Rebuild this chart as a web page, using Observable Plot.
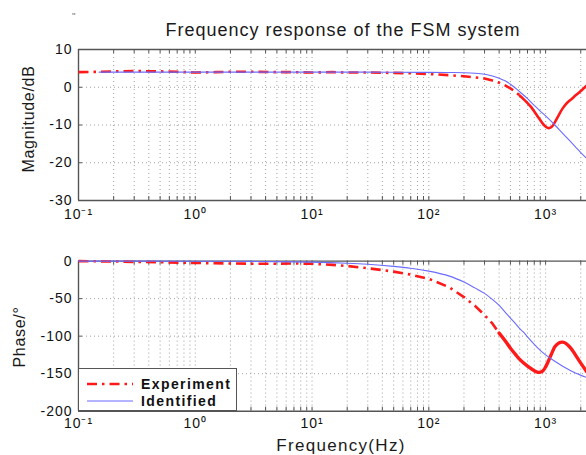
<!DOCTYPE html>
<html>
<head>
<meta charset="utf-8">
<script src="https://cdn.jsdelivr.net/npm/d3@7"></script>
<script src="https://cdn.jsdelivr.net/npm/@observablehq/plot@0.6"></script>
<style>
  html, body { margin: 0; padding: 0; background: #fff; overflow: hidden; }
  #wrap { position: relative; width: 586px; height: 455px; font-family: Arial, "Liberation Sans", Helvetica, sans-serif; color: #1a1a1a; }
  #wrap svg.panel { position: absolute; left: 0; }
  #wrap svg.panel text { letter-spacing: 1px; }
  .lbl { position: absolute; white-space: nowrap; line-height: 1; }
  .ylab { position: absolute; white-space: nowrap; line-height: 1; font-size: 16px; letter-spacing: 0.7px; transform: translate(-50%, -50%) rotate(-90deg); }
  #legend { position: absolute; background: #fff; border: 1px solid #555; box-sizing: border-box; }
  #legend .row { position: absolute; left: 0; display: flex; align-items: center; }
  #legend .row span { font-weight: bold; font-size: 14px; letter-spacing: 1.4px; color: #111; margin-left: 8px; }
</style>
</head>
<body>
<div id="wrap"></div>
<script>
// ---------- data ----------
const xTicks = [0.1, 1, 10, 100, 1000];
const xTickLabels = ["10\u207B\u00B9", "10\u2070", "10\u00B9", "10\u00B2", "10\u00B3"];
const xGrid = [0.2, 0.3, 0.4, 0.5, 0.6, 0.7, 0.8, 0.9, 1, 2, 3, 4, 5, 6, 7, 8, 9, 10,
               20, 30, 40, 50, 60, 70, 80, 90, 100, 200, 300, 400, 500, 600, 700, 800, 900, 1000, 2000];
const xDomain = [0.1, 2240];
const magTicks = [10, 0, -10, -20, -30];
const phaseTicks = [0, -50, -100, -150, -200];
const seriesNames = ["Experiment", "Identified"];

// Magnitude (dB)
const magFreqExp = [0.1, 0.15, 0.2, 0.3, 0.5, 0.7, 1, 1.5, 2, 3, 5, 7, 10, 15, 20, 30, 50, 70, 100, 150, 200, 250, 300, 350, 400, 450, 500, 550, 600, 650, 700, 750, 800, 850, 900, 950, 1000, 1050, 1100, 1150, 1200, 1300, 1400, 1500, 1600, 1700, 1800, 1900, 2000, 2100, 2240];
const magExp     = [4.0, 4.1, 4.2, 4.3, 4.2, 4.1, 3.9, 4.0, 4.1, 4.1, 4.0, 4.0, 3.9, 4.0, 3.9, 3.9, 3.8, 3.7, 3.5, 3.2, 2.9, 2.6, 2.3, 1.8, 1.2, 0.5, -0.3, -1.2, -2.2, -3.2, -4.2, -5.2, -6.4, -7.6, -8.7, -9.7, -10.4, -10.8, -10.7, -10.2, -9.3, -7.3, -5.6, -4.4, -3.6, -2.9, -2.2, -1.6, -1.0, -0.4, 0.4];
const magFreqId  = [0.15, 0.3, 1, 3, 10, 30, 100, 150, 200, 250, 300, 350, 400, 450, 500, 550, 600, 700, 800, 900, 1000, 1200, 1400, 1600, 1800, 2000, 2240];
const magId      = [4.0, 4.0, 4.0, 4.0, 4.0, 4.0, 3.95, 3.9, 3.85, 3.7, 3.45, 3.0, 2.4, 1.7, 0.8, -0.2, -1.2, -3.0, -4.8, -6.3, -7.6, -10.0, -12.2, -14.1, -15.8, -17.3, -18.8];

// Phase (degrees)
const phFreqExp = [0.1, 0.2, 0.3, 0.5, 1, 2, 3, 5, 7, 10, 15, 20, 30, 40, 50, 70, 100, 150, 200, 250, 300, 350, 400, 450, 500, 550, 600, 700, 800, 850, 900, 950, 1000, 1050, 1100, 1150, 1200, 1300, 1400, 1500, 1600, 1700, 1800, 2000, 2240];
const phExp     = [0, -0.5, -1, -1.5, -2.5, -3.2, -3.5, -3.5, -3.2, -3.5, -5, -6.5, -9.5, -12, -14, -18, -23.6, -35, -48, -60, -72, -83, -96, -106, -116, -124, -131, -140, -146, -148, -148, -146, -141, -134, -127, -120, -114, -109, -108, -110, -114, -119, -125, -136, -147];
const phFreqId  = [0.1, 1, 3, 10, 20, 30, 50, 70, 100, 150, 200, 250, 300, 350, 400, 450, 500, 550, 600, 650, 700, 800, 900, 1000, 1100, 1200, 1400, 1600, 1800, 2000, 2240];
const phId      = [0, -0.1, -0.4, -1.4, -2.8, -4.2, -7, -9.5, -13.4, -20, -28, -36, -43, -51, -59, -68, -76, -83, -90, -95, -101, -111, -119, -125, -129.5, -133.5, -140, -145, -149, -152, -155];

// ---------- helpers ----------
const rows = (fs, vs) => fs.map((f, i) => ({f, v: vs[i]}));
const magExpRows = rows(magFreqExp, magExp);
const magIdRows = rows(magFreqId, magId);
const phExpRows = rows(phFreqExp, phExp);
const phIdRows = rows(phFreqId, phId);
const magSolidFrom = 600;   // experiment trace turns continuous (dense data)
const phSolidFrom = 400;

const RED = "#ff1a1a", BLUE = "#6b6bff", FRAME = "#555", GRID = "#8a8a8a";
const dashDot = "10,5,2.5,5";

function panel({height, marginTop, marginBottom, yDomain, yTicks, expRows, idRows, solidFrom, solidWidth, tickLen, xPad}) {
  const [y0, y1] = yDomain;
  const ySpan = y1 - y0;
  const plotH = height - marginTop - marginBottom;
  const dy = tickLen * ySpan / plotH;              // inward tick length in data units
  const logSpan = Math.log10(xDomain[1] / xDomain[0]);
  const plotW = 586 - 78;
  const xTickEnd = xDomain[0] * Math.pow(10, tickLen * logSpan / plotW);
  return Plot.plot({
    width: 586, height,
    marginLeft: 78, marginRight: 0, marginTop, marginBottom,
    style: {fontFamily: "Arial, 'Liberation Sans', Helvetica, sans-serif", fontSize: "14px", color: "#111", background: "transparent", overflow: "visible"},
    x: {type: "log", domain: xDomain, ticks: xTicks, tickFormat: d => xTickLabels[xTicks.indexOf(d)] ?? "", tickSize: 0, tickPadding: xPad, label: null},
    y: {domain: yDomain, ticks: yTicks, tickFormat: d => String(d), tickSize: 0, tickPadding: 6, label: null},
    marks: [
      Plot.ruleX(xGrid, {stroke: GRID, strokeDasharray: "1,3", strokeWidth: 1, strokeOpacity: 0.8}),
      Plot.ruleY(yTicks.slice(1, -1), {stroke: GRID, strokeDasharray: "1,3", strokeWidth: 1, strokeOpacity: 0.8}),
      // inward ticks
      Plot.ruleX(xGrid, {y1: y0, y2: y0 + dy, stroke: FRAME, strokeWidth: 1}),
      Plot.ruleX(xGrid, {y1: y1, y2: y1 - dy, stroke: FRAME, strokeWidth: 1}),
      Plot.ruleY(yTicks, {x1: xDomain[0], x2: xTickEnd, stroke: FRAME, strokeWidth: 1}),
      // frame (right side is outside the picture)
      Plot.ruleY([y0, y1], {stroke: FRAME, strokeWidth: 1.4}),
      Plot.ruleX([xDomain[0]], {stroke: FRAME, strokeWidth: 1.4}),
      // experiment
      Plot.line(expRows, {filter: d => d.f <= solidFrom, x: "f", y: "v", stroke: RED, strokeWidth: 2.6, strokeDasharray: dashDot, strokeLinecap: "butt"}),
      Plot.line(expRows, {filter: d => d.f >= solidFrom, x: "f", y: "v", stroke: RED, strokeWidth: solidWidth, curve: "catmull-rom"}),
      // identified
      Plot.line(idRows, {x: "f", y: "v", stroke: BLUE, strokeWidth: 1.1, curve: "catmull-rom"})
    ]
  });
}

const wrap = document.getElementById("wrap");

const magPanel = panel({height: 225, marginTop: 49, marginBottom: 25, yDomain: [-30, 10], yTicks: magTicks.slice().reverse(),
  expRows: magExpRows, idRows: magIdRows, solidFrom: magSolidFrom, solidWidth: 2.6, tickLen: 4, xPad: 9});
magPanel.classList.add("panel");
magPanel.style.top = "0px";
wrap.appendChild(magPanel);

const phasePanel = panel({height: 230, marginTop: 35.6, marginBottom: 44.3, yDomain: [-200, 0], yTicks: phaseTicks.slice().reverse(),
  expRows: phExpRows, idRows: phIdRows, solidFrom: phSolidFrom, solidWidth: 3.4, tickLen: 4, xPad: 7});
phasePanel.classList.add("panel");
phasePanel.style.top = "225px";
wrap.appendChild(phasePanel);

// ---------- text ----------
function addLabel(text, css, cls = "lbl") {
  const d = document.createElement("div");
  d.className = cls;
  d.textContent = text;
  Object.assign(d.style, css);
  wrap.appendChild(d);
  return d;
}
addLabel("''", {left: "72px", top: "12px", fontSize: "9px", color: "#666"});
addLabel("Frequency response of the FSM system", {left: "343px", top: "21px", fontSize: "18px", letterSpacing: "1.0px", transform: "translateX(-50%)", color: "#1a1a1a"});
addLabel("Magnitude/dB", {left: "29px", top: "119px"}, "ylab");
addLabel("Phase/\u00B0", {left: "20px", top: "337px"}, "ylab");
addLabel("Frequency(Hz)", {left: "341px", top: "437px", fontSize: "17px", letterSpacing: "1.3px", transform: "translateX(-50%)", color: "#1a1a1a"});

// ---------- legend ----------
const legend = document.createElement("div");
legend.id = "legend";
Object.assign(legend.style, {left: "78px", top: "368px", width: "159px", height: "43px"});
const legendStyles = [
  {stroke: RED, width: 2.6, dash: dashDot},
  {stroke: BLUE, width: 1.1, dash: null}
];
seriesNames.forEach((name, i) => {
  const row = document.createElement("div");
  row.className = "row";
  row.style.top = (i === 0 ? 7 : 24) + "px";
  row.style.left = "8px";
  row.style.height = "16px";
  const s = legendStyles[i];
  row.innerHTML = `<svg width="46" height="16"><line x1="0" x2="46" y1="8" y2="8" stroke="${s.stroke}" stroke-width="${s.width}" ${s.dash ? `stroke-dasharray="${s.dash}"` : ""}/></svg><span>${name}</span>`;
  legend.appendChild(row);
});
wrap.appendChild(legend);
</script>
</body>
</html>
